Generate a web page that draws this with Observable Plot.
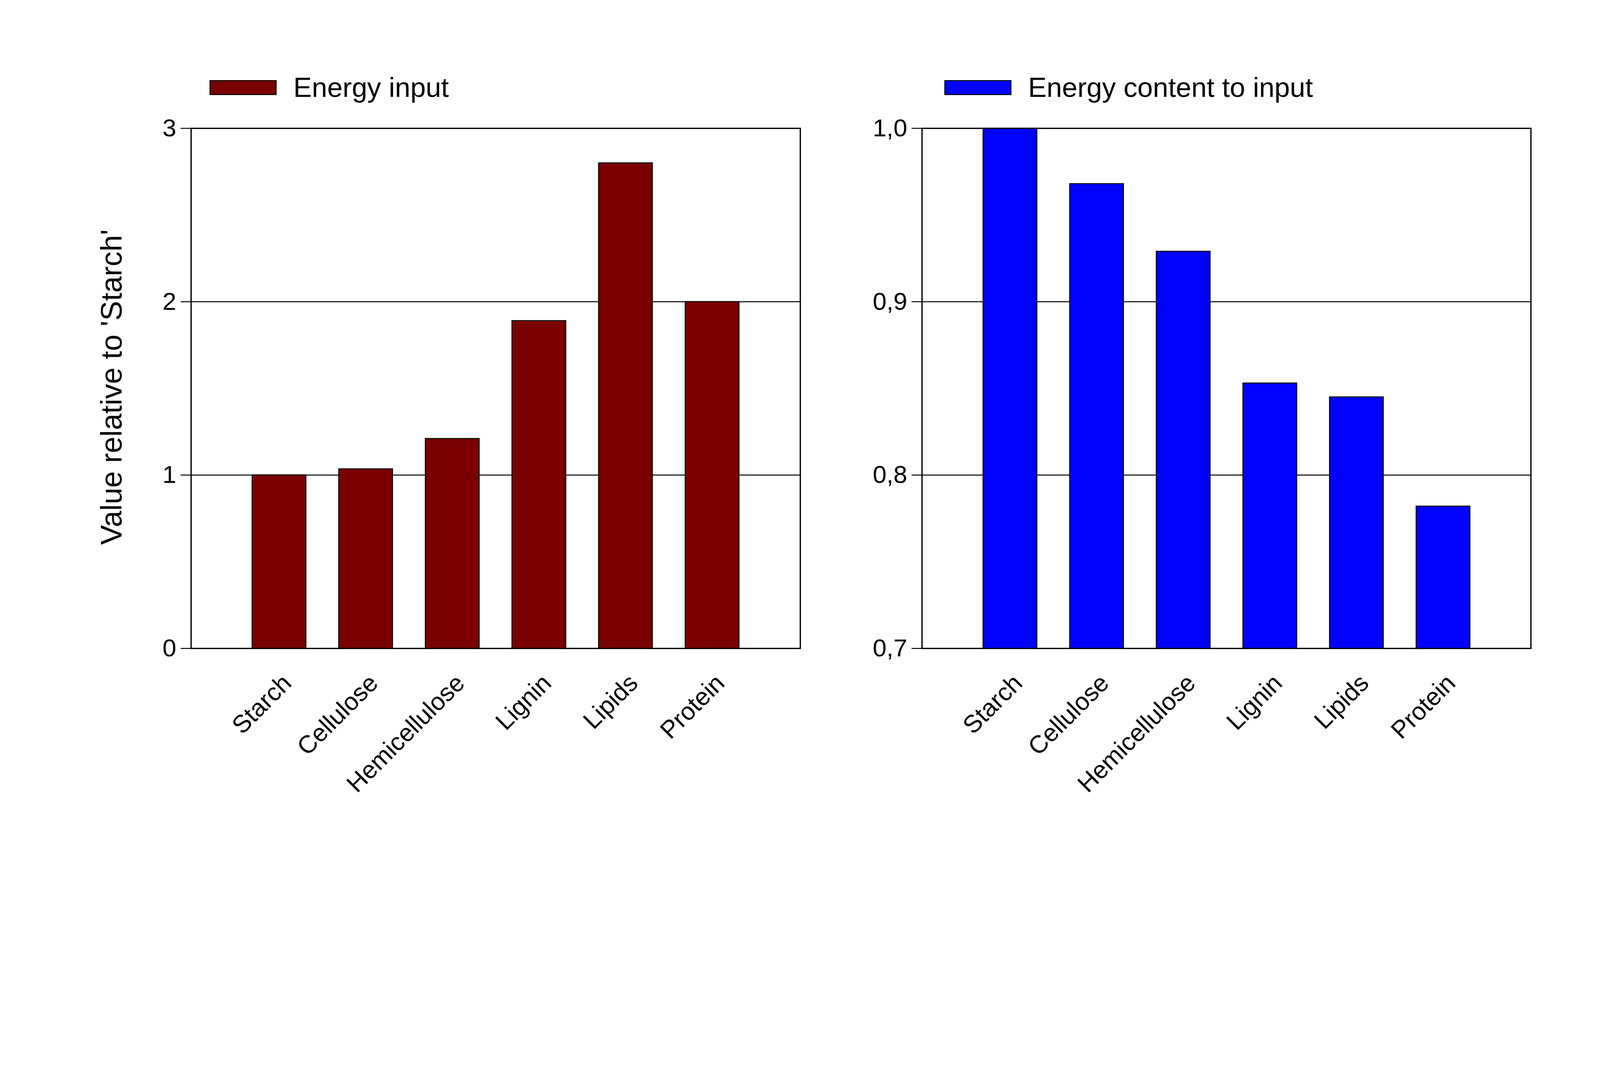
<!DOCTYPE html>
<html><head><meta charset="utf-8">
<script src="https://cdn.jsdelivr.net/npm/d3@7"></script>
<script src="https://cdn.jsdelivr.net/npm/@observablehq/plot@0.6"></script>
<style>
html,body{margin:0;background:#fff;font-family:"Liberation Sans",Arial,sans-serif;overflow:hidden;}
#wrap{position:relative;width:4969px;height:2749px;transform-origin:0 0;}
.p{position:absolute;top:0;}
.leg{position:absolute;display:flex;align-items:center;font-size:86px;color:#000;}
.sw{width:208px;height:46px;border:3px solid #000;margin-right:52px;box-sizing:border-box;}
</style></head><body>
<div id="wrap"></div>
<script>
const categories = ["Starch","Cellulose","Hemicellulose","Lignin","Lipids","Protein"];
const energyInput = [1.0, 1.035, 1.21, 1.89, 2.80, 2.0];
const energyContentToInput = [1.0, 0.968, 0.929, 0.853, 0.845, 0.782];
const leftTicks = [0,1,2,3];
const rightTicks = [0.7,0.8,0.9,1.0];

const wrap = document.getElementById("wrap");
const k = Math.min(window.innerWidth/4969, window.innerHeight/2749);
wrap.style.transform = `scale(${k})`;
const FS = 77;

function panel(values, color, domain, ticks, fmt, left, width, mL, mR) {
  const data = categories.map((c,i)=>({c, v: values[i]}));
  const p = Plot.plot({
    width, height: 2749,
    marginLeft: mL, marginRight: mR, marginTop: 398, marginBottom: 736,
    style: {fontFamily: '"Liberation Sans", Arial, sans-serif', fontSize: FS+"px", background:"#fff", color:"#000"},
    x: {domain: categories, paddingInner: 0.38, paddingOuter: 0.19, insetLeft: 138, insetRight: 138, axis: null},
    y: {domain, axis: null},
    marks: [
      Plot.ruleY(ticks.slice(1,-1), {stroke:"#000", strokeWidth:3}),
      Plot.barY(data, {x:"c", y1: domain[0], y2:"v", fill: color, stroke:"#000", strokeWidth:3}),
      Plot.frame({stroke:"#000", strokeWidth:4}),
      Plot.axisY({ticks, tickSize: 32, tickPadding: 14, fontSize: FS, tickFormat: fmt, strokeWidth: 3, label: null}),
      Plot.text(data, {x:"c", y: domain[0], text:"c", rotate:-45, textAnchor:"end", dy: 95, dx: 25, fontSize: FS, lineAnchor:"middle"})
    ]
  });
  p.classList.add("p");
  p.style.left = left + "px";
  wrap.appendChild(p);
}
panel(energyInput, "#7a0000", [0,3], leftTicks, d=>String(d), 0, 2500, 593, 15);
panel(energyContentToInput, "#0000ff", [0.7,1.0], rightTicks, d=>d.toFixed(1).replace(".",","), 2500, 2469, 363, 215);

function legend(x, color, text){
  const d = document.createElement("div");
  d.className = "leg"; d.style.left = x+"px"; d.style.top = "222px";
  d.innerHTML = `<div class="sw" style="background:${color}"></div><span>${text}</span>`;
  wrap.appendChild(d);
}
legend(651, "#7a0000", "Energy input");
legend(2933, "#0000ff", "Energy content to input");

const yl = document.createElement("div");
yl.textContent = "Value relative to 'Starch'";
yl.style.cssText = "position:absolute;left:346px;top:1202px;transform:translate(-50%,-50%) rotate(-90deg);font-size:92px;white-space:nowrap;";
wrap.appendChild(yl);
</script>
</body></html>
